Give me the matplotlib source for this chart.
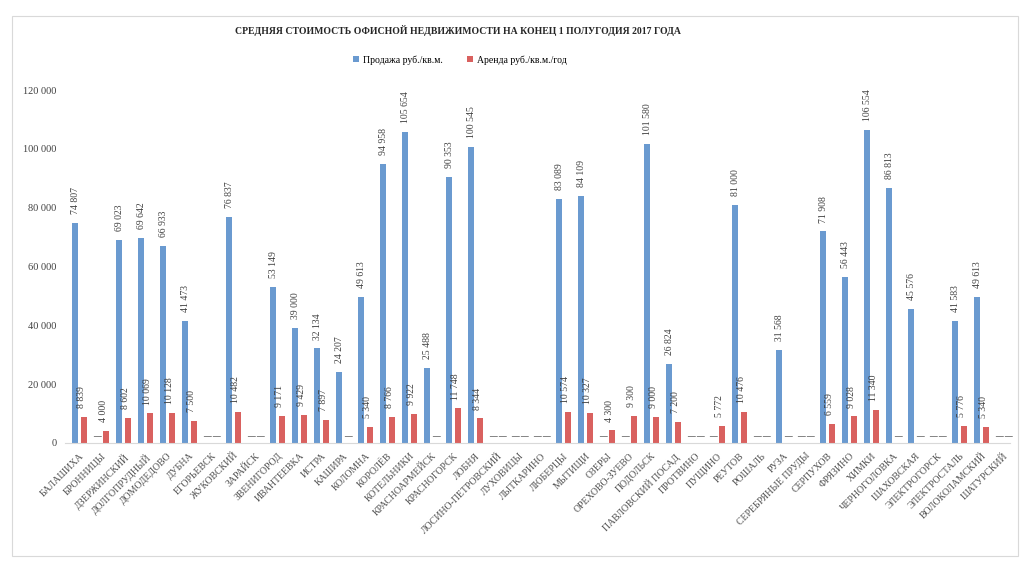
import matplotlib.pyplot as plt
import matplotlib
from matplotlib.patches import Rectangle
import numpy as np

matplotlib.rcParams["font.family"] = ["Liberation Serif", "DejaVu Serif"]

# города и средние цены
goroda = ['БАЛАШИХА', 'БРОННИЦЫ', 'ДЗЕРЖИНСКИЙ', 'ДОЛГОПРУДНЫЙ', 'ДОМОДЕДОВО', 'ДУБНА',
          'ЕГОРЬЕВСК', 'ЖУКОВСКИЙ', 'ЗАРАЙСК', 'ЗВЕНИГОРОД', 'ИВАНТЕЕВКА', 'ИСТРА',
          'КАШИРА', 'КОЛОМНА', 'КОРОЛЁВ', 'КОТЕЛЬНИКИ', 'КРАСНОАРМЕЙСК', 'КРАСНОГОРСК',
          'ЛОБНЯ', 'ЛОСИНО-ПЕТРОВСКИЙ', 'ЛУХОВИЦЫ', 'ЛЫТКАРИНО', 'ЛЮБЕРЦЫ', 'МЫТИЩИ',
          'ОЗЕРЫ', 'ОРЕХОВО-ЗУЕВО', 'ПОДОЛЬСК', 'ПАВЛОВСКИЙ ПОСАД', 'ПРОТВИНО', 'ПУЩИНО',
          'РЕУТОВ', 'РОШАЛЬ', 'РУЗА', 'СЕРЕБРЯНЫЕ ПРУДЫ', 'СЕРПУХОВ', 'ФРЯЗИНО', 'ХИМКИ',
          'ЧЕРНОГОЛОВКА', 'ШАХОВСКАЯ', 'ЭЛЕКТРОГОРСК', 'ЭЛЕКТРОСТАЛЬ', 'ВОЛОКОЛАМСКИЙ',
          'ШАТУРСКИЙ']

prodazha = [74807, 0, 69023, 69642, 66933, 41473,
            0, 76837, 0, 53149, 39000, 32134,
            24207, 49613, 94958, 105654, 25488, 90353,
            100545, 0, 0, 0, 83089, 84109,
            0, 0, 101580, 26824, 0, 0,
            81000, 0, 31568, 0, 71908, 56443, 106554,
            86813, 45576, 0, 41583, 49613,
            0]

arenda = [8839, 4000, 8602, 10069, 10128, 7500,
          0, 10482, 0, 9171, 9429, 7897,
          0, 5340, 8766, 9922, 0, 11748,
          8344, 0, 0, 0, 10574, 10327,
          4300, 9300, 9000, 7200, 0, 5772,
          10476, 0, 0, 0, 6559, 9028, 11340,
          0, 0, 0, 5776, 5340,
          0]

yticks = [0, 20000, 40000, 60000, 80000, 100000, 120000]

blue = '#6A9AD0'
red = '#D9615F'
txt = '#404040'


def fmt(v):
    return '{:,}'.format(v).replace(',', ' ')


fig = plt.figure(figsize=(10.25, 5.62), dpi=100)
fig.patches.append(Rectangle((12 / 1025, 6 / 562), 1006 / 1025, 540 / 562,
                             transform=fig.transFigure, fill=False,
                             edgecolor='#D9D9D9', linewidth=0.8))

ax = fig.add_axes([65 / 1025, 1 - 443 / 562, 945 / 1025, (443 - 90) / 562])

x = np.arange(len(goroda))
w = 0.27
ax.bar(x - 0.2, prodazha, width=w, color=blue, label='Продажа руб./кв.м.')
ax.bar(x + 0.2, arenda, width=w, color=red, label='Аренда руб./кв.м./год')

# подписи значений, для нулей — прочерк
for xi, v in zip(x - 0.2, prodazha):
    if v > 0:
        ax.text(xi, v + 3000, fmt(v), rotation=90, ha='center', va='bottom',
                fontsize=7, color=txt)
    else:
        ax.text(xi, 2200, '–', ha='center', va='center', fontsize=11,
                color='#606060', fontweight='bold')
for xi, v in zip(x + 0.2, arenda):
    if v > 0:
        ax.text(xi - 0.12, v + 3000, fmt(v), rotation=90, ha='center', va='bottom',
                fontsize=7, color=txt)
    else:
        ax.text(xi, 2200, '–', ha='center', va='center', fontsize=11,
                color='#606060', fontweight='bold')

ax.set_xlim(-0.66, 42.3)
ax.set_ylim(0, 120000)
ax.set_yticks(yticks)
ax.set_yticklabels([fmt(t) for t in yticks], fontsize=7.5, color=txt)
ax.set_xticks(x)
ax.set_xticklabels(goroda, rotation=45, ha='right', rotation_mode='anchor',
                   fontsize=7, color='#505050')
ax.tick_params(length=0, pad=6)
for s in ['top', 'right', 'left']:
    ax.spines[s].set_visible(False)
ax.spines['bottom'].set_color('#D9D9D9')

fig.text(458 / 1025, 1 - 30 / 562,
         'СРЕДНЯЯ СТОИМОСТЬ ОФИСНОЙ НЕДВИЖИМОСТИ НА КОНЕЦ 1 ПОЛУГОДИЯ 2017 ГОДА',
         ha='center', va='center', fontsize=7, fontweight='bold', color='#262626')

fig.legend(loc='center', bbox_to_anchor=(460 / 1025, 1 - 60 / 562), ncol=2,
           frameon=False, fontsize=7, handlelength=0.6, handleheight=0.6,
           columnspacing=2.5, handletextpad=0.4)

plt.savefig('out.png', dpi=100)
